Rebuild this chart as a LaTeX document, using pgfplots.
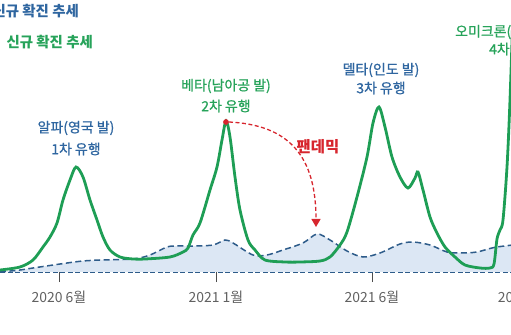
\documentclass[border=0pt]{standalone}
\usepackage{fontspec}
\setmainfont{Noto Sans CJK KR}
\newfontfamily\krmed[FakeBold=0.9]{Noto Sans CJK KR}
\usepackage{pgfplots}
\pgfplotsset{compat=1.18}
\usetikzlibrary{arrows.meta}
\definecolor{cgreen}{HTML}{1E9E55}
\definecolor{cblue}{HTML}{2E5C8A}
\definecolor{cfill}{HTML}{DCE7F4}
\definecolor{ctext}{HTML}{2F66A0}
\definecolor{cgtext}{HTML}{27A35A}
\definecolor{cred}{HTML}{D7262E}
\begin{document}
\begin{tikzpicture}
\useasboundingbox (0,0) rectangle (511bp,335bp);
\clip (0,0) rectangle (511bp,335bp);
\begin{axis}[at={(0,0)}, anchor=south west, scale only axis,
  width=540bp, height=335bp, xmin=0, xmax=540, ymin=-63, ymax=272,
  axis x line=middle, axis y line=none,
  axis line style={-, cblue, line width=1.8bp, dash pattern=on 5bp off 2.5bp},
  xtick={59,216,372,529},
  xticklabels={2020 6월, 2021 1월, 2021 6월, 2021 11월},
  tick align=outside, major tick length=10bp,
  tick style={draw=black!70, line width=1bp, solid},
  xticklabel style={font=\fontsize{14}{16}\selectfont, text=black!62, yshift=-5bp},
  ytick=\empty, clip=false]
\addplot[draw=none, fill=cfill, smooth, tension=0.5] coordinates {
(0,0) (20,2) (33,4) (67,9) (83,11) (100,12) (133,13) (150,17) (167,25) (177,26)
(193,26) (213,27) (225,32) (233,29) (253,17) (267,17) (283,22) (303,29) (317,38)
(330,32) (347,21) (363,15) (380,19) (400,28) (413,30) (430,27) (447,20) (460,19)
(477,20) (497,25) (540,30)} \closedcycle;
\addplot[cblue, line width=1.5bp, dash pattern=on 6bp off 3.5bp, smooth, tension=0.5] coordinates {
(0,0) (20,2) (33,4) (67,9) (83,11) (100,12) (133,13) (150,17) (167,25) (177,26)
(193,26) (213,27) (225,32) (233,29) (253,17) (267,17) (283,22) (303,29) (317,38)
(330,32) (347,21) (363,15) (380,19) (400,28) (413,30) (430,27) (447,20) (460,19)
(477,20) (497,25) (540,30)};
\addplot[cgreen, line width=2.8bp, smooth, tension=0.5] coordinates {
(0,2) (20,5) (33,12) (43,25) (50,35) (57,49) (63,72) (70,92) (76,105) (83,95)
(90,72) (97,52) (103,35) (110,22) (120,15) (133,13) (145,13) (170,15) (183,20)
(188,24) (193,37) (200,49) (210,82) (217,105) (222,132) (226,151) (230,135)
(235,95) (240,62) (248,32) (255,22) (265,12) (285,10) (300,10) (320,11) (330,15)
(340,27) (347,40) (357,75) (367,115) (373,149) (379,165) (385,145) (392,115)
(400,95) (408,84) (415,94) (418,100) (423,82) (430,55) (437,39) (445,25) (455,15)
(465,7) (480,4) (490,4) (494,8) (497,33) (500,42) (503,52) (507,105) (510,172) (514,290)};
\addplot[only marks, mark=*, mark size=2.6bp, cred] coordinates {(226,150)};
\draw[cred, line width=1.3bp, dash pattern=on 4bp off 2.5bp, -{Triangle[length=8bp,width=9bp]}]
  (axis cs:229,150) .. controls (axis cs:290,147) and (axis cs:316,115) .. (axis cs:316,45);
\node[font=\fontsize{14.5}{16}\selectfont\bfseries, text=ctext, anchor=west] at (axis cs:-11,261) {신규 확진 추세};
\node[font=\fontsize{14.5}{16}\selectfont\bfseries, text=cgtext, anchor=west] at (axis cs:3,230) {신규 확진 추세};
\node[font=\fontsize{14}{16}\krmed, text=ctext] at (axis cs:76,144) {알파(영국 발)};
\node[font=\fontsize{14}{16}\krmed, text=ctext] at (axis cs:76,123) {1차 유행};
\node[font=\fontsize{14}{16}\krmed, text=cgtext] at (axis cs:226,186) {베타(남아공 발)};
\node[font=\fontsize{14}{16}\krmed, text=cgtext] at (axis cs:226,166) {2차 유행};
\node[font=\fontsize{14}{16}\krmed, text=ctext] at (axis cs:381,202) {델타(인도 발)};
\node[font=\fontsize{14}{16}\krmed, text=ctext] at (axis cs:381,184) {3차 유행};
\node[font=\fontsize{14}{16}\krmed, text=cgtext, anchor=west, inner sep=0pt] at (axis cs:455,240) {오미크론(남아공 발)};
\node[font=\fontsize{14}{16}\krmed, text=cgtext, anchor=west, inner sep=0pt] at (axis cs:489,223) {4차 유행};
\node[font=\fontsize{15.5}{17}\selectfont\bfseries, text=cred] at (axis cs:318,125) {팬데믹};
\end{axis}
\end{tikzpicture}
\end{document}
